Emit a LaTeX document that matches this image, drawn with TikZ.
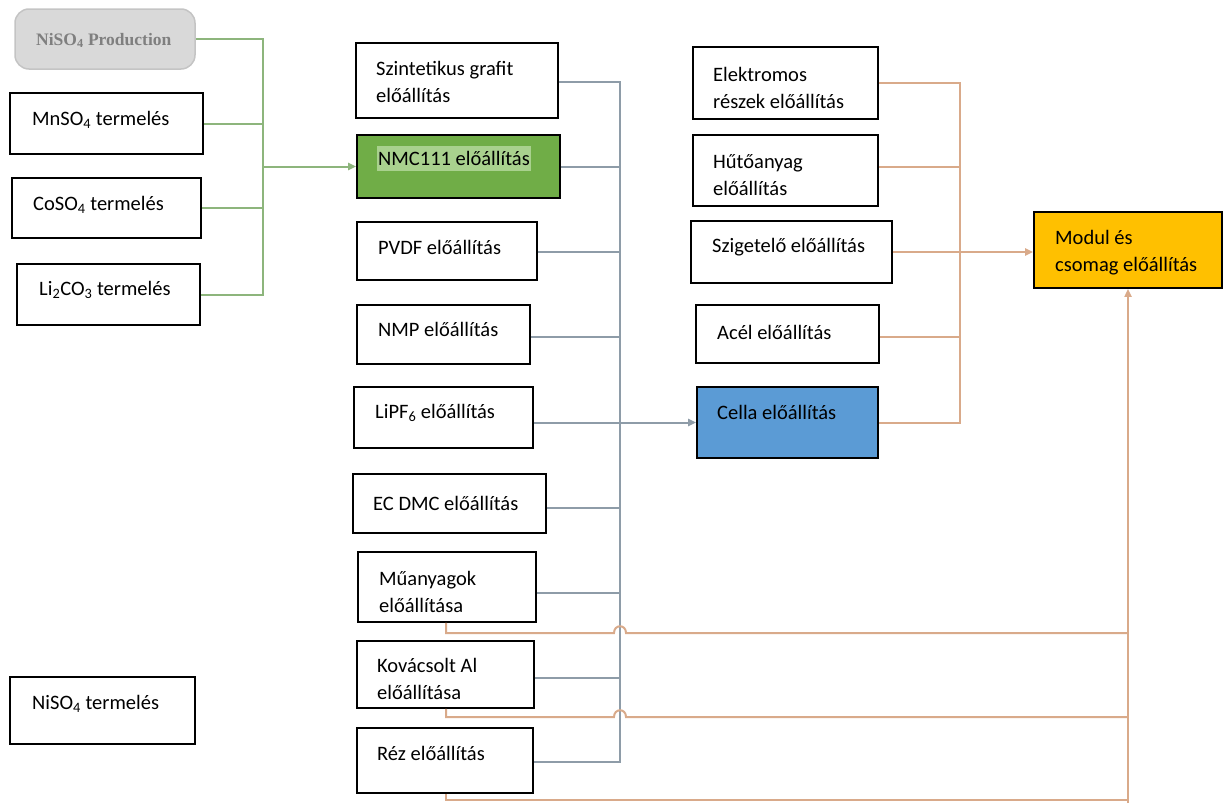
\documentclass[tikz,border=0pt]{standalone}
\usepackage{fontspec}
\setmainfont{Carlito}
\newfontfamily\serifbf{Liberation Serif}
\usetikzlibrary{arrows.meta}
\definecolor{lgreen}{HTML}{8DB57C}
\definecolor{lblue}{HTML}{8E9CA8}
\definecolor{lorange}{HTML}{D9AA8A}
\definecolor{nmcgreen}{HTML}{70AD47}
\definecolor{nmchl}{HTML}{A9D18E}
\definecolor{cellblue}{HTML}{5B9BD5}
\definecolor{modgold}{HTML}{FFC000}
\definecolor{prodfill}{HTML}{D9D9D9}
\definecolor{prodline}{HTML}{C4C4C4}
\definecolor{prodtext}{HTML}{7F7F7F}
\begin{document}
\begin{tikzpicture}[x=1pt,y=-1pt,
  box/.style={draw=black, line width=1.8pt, fill=white, rectangle, inner sep=0pt},
  txt/.style={anchor=base west, inner sep=0pt, font=\fontsize{20.5}{27}\selectfont, align=left},
  gline/.style={draw=lgreen, line width=2pt},
  bline/.style={draw=lblue, line width=2pt},
  oline/.style={draw=lorange, line width=2pt},
  tip/.style={-{Triangle[length=8pt,width=7pt]}},
]
\useasboundingbox (0,0) rectangle (1225,803);

% ---------- left column ----------
\node[box, rounded corners=14pt, draw=prodline, line width=1.5pt, fill=prodfill,
      minimum width=180pt, minimum height=60pt] (prod) at (105,39) {};
\node[anchor=base west, inner sep=0pt, text=prodtext,
      font=\serifbf\bfseries\fontsize{17.5}{19}\selectfont] (prodt) at (36,45) {NiSO\textsubscript{4} Production};
\node[box, minimum width=193pt, minimum height=61pt] (mn) at (106.5,123.5) {};
\node[txt] (mnt) at (32,125) {MnSO\textsubscript{4} termelés};
\node[box, minimum width=189pt, minimum height=60pt] (co) at (106.5,208) {};
\node[txt] (cot) at (33,210) {CoSO\textsubscript{4} termelés};
\node[box, minimum width=183pt, minimum height=61pt] (li) at (108.5,294.5) {};
\node[txt] (lit) at (39,295) {Li\textsubscript{2}CO\textsubscript{3} termelés};
\node[box, minimum width=185pt, minimum height=67pt] (ni) at (102.5,710.5) {};
\node[txt] (nit) at (32,709) {NiSO\textsubscript{4} termelés};

% ---------- middle column ----------
\node[box, minimum width=202pt, minimum height=75pt] (szg) at (457,80.5) {};
\node[txt] (szgt) at (376,102) {Szintetikus grafit\\előállítás};
\node[box, fill=nmcgreen, minimum width=203pt, minimum height=63pt] (nmc) at (458.5,166.5) {};
\node[txt, fill=nmchl, text height=19pt, text depth=6pt, inner xsep=1pt] (nmct) at (377,165) {NMC111 előállítás};
\node[box, minimum width=180pt, minimum height=58pt] (pvdf) at (447,251) {};
\node[txt] (pvdft) at (378,254) {PVDF előállítás};
\node[box, minimum width=173pt, minimum height=59pt] (nmp) at (443.5,334.5) {};
\node[txt] (nmpt) at (378,336) {NMP előállítás};
\node[box, minimum width=179pt, minimum height=61pt] (lipf) at (443.5,417.5) {};
\node[txt] (lipft) at (375,418) {LiPF\textsubscript{6} előállítás};
\node[box, minimum width=193pt, minimum height=59pt] (ec) at (449.5,503.5) {};
\node[txt] (ect) at (373,510) {EC DMC előállítás};
\node[box, minimum width=178pt, minimum height=70pt] (mua) at (447,587) {};
\node[txt] (muat) at (379,612) {Műanyagok\\előállítása};
\node[box, minimum width=177pt, minimum height=67pt] (kov) at (445.5,674.5) {};
\node[txt] (kovt) at (377,699) {Kovácsolt Al\\előállítása};
\node[box, minimum width=176pt, minimum height=65pt] (rez) at (445,760.5) {};
\node[txt] (rezt) at (377,760) {Réz előállítás};

% ---------- right column ----------
\node[box, minimum width=185pt, minimum height=72pt] (ele) at (785.5,83) {};
\node[txt] (elet) at (713,108) {Elektromos\\részek előállítás};
\node[box, minimum width=185pt, minimum height=71pt] (hut) at (785.5,170.5) {};
\node[txt] (hutt) at (713,195) {Hűtőanyag\\előállítás};
\node[box, minimum width=201pt, minimum height=62pt] (szi) at (791.5,252) {};
\node[txt] (szit) at (712,252) {Szigetelő előállítás};
\node[box, minimum width=183pt, minimum height=58pt] (ace) at (787.5,334) {};
\node[txt] (acet) at (717,339) {Acél előállítás};
\node[box, fill=cellblue, minimum width=181pt, minimum height=71pt] (cel) at (787.5,422.5) {};
\node[txt] (celt) at (717,419) {Cella előállítás};
\node[box, fill=modgold, minimum width=188pt, minimum height=76pt] (mod) at (1128,250) {};
\node[txt] (modt) at (1055,271) {Modul és\\csomag előállítás};

% ---------- bus coordinates ----------
\coordinate (gx) at (263,0);
\coordinate (bx) at (620,0);
\coordinate (ox) at (960,0);
\coordinate (lx) at (446,0);
\coordinate (obot) at (1128,803);

% ---------- green connectors ----------
\draw[gline] (prod.east) -- (prod.east -| gx) -- (gx |- li.east) -- (li.east);
\draw[gline] (mn.east) -- (mn.east -| gx);
\draw[gline] (co.east) -- (co.east -| gx);
\draw[gline, tip] (gx |- nmc.west) -- (nmc.west);

% ---------- blue-gray connectors ----------
\draw[bline] ([yshift=-1.5pt]szg.east) -- ([yshift=-1.5pt]szg.east -| bx) -- ([yshift=-1.5pt]rez.east -| bx) -- ([yshift=-1.5pt]rez.east);
\draw[bline] (nmc.east) -- (nmc.east -| bx);
\draw[bline] ([yshift=-1pt]pvdf.east) -- ([yshift=-1pt]pvdf.east -| bx);
\draw[bline] ([yshift=-2.5pt]nmp.east) -- ([yshift=-2.5pt]nmp.east -| bx);
\draw[bline, tip] (lipf.east |- cel.west) -- (cel.west);
\draw[bline] ([yshift=-4.5pt]ec.east) -- ([yshift=-4.5pt]ec.east -| bx);
\draw[bline] ([yshift=-6pt]mua.east) -- ([yshift=-6pt]mua.east -| bx);
\draw[bline] ([yshift=-3.5pt]kov.east) -- ([yshift=-3.5pt]kov.east -| bx);

% ---------- orange connectors ----------
\draw[oline] (ele.east) -- (ele.east -| ox) -- (ox |- cel.east) -- (cel.east);
\draw[oline] ([yshift=3.5pt]hut.east) -- ([yshift=3.5pt]hut.east -| ox);
\draw[oline] ([yshift=-3pt]ace.east) -- ([yshift=-3pt]ace.east -| ox);
\draw[oline] (szi.east) -- (szi.east -| ox);
\draw[oline, tip] (szi.east -| ox) -- (mod.west |- szi.east);

\draw[oline] (lx |- mua.south) -- (446,633) -- (614,633)
   .. controls (614,624) and (626,624) .. (626,633) -- (1128,633);
\draw[oline] (lx |- kov.south) -- (446,717) -- (614,717)
   .. controls (614,708) and (626,708) .. (626,717) -- (1128,717);
\draw[oline] (lx |- rez.south) -- (446,800) -- (1128,800);
\draw[oline, tip] (obot) -- (mod.south);

\end{tikzpicture}
\end{document}
